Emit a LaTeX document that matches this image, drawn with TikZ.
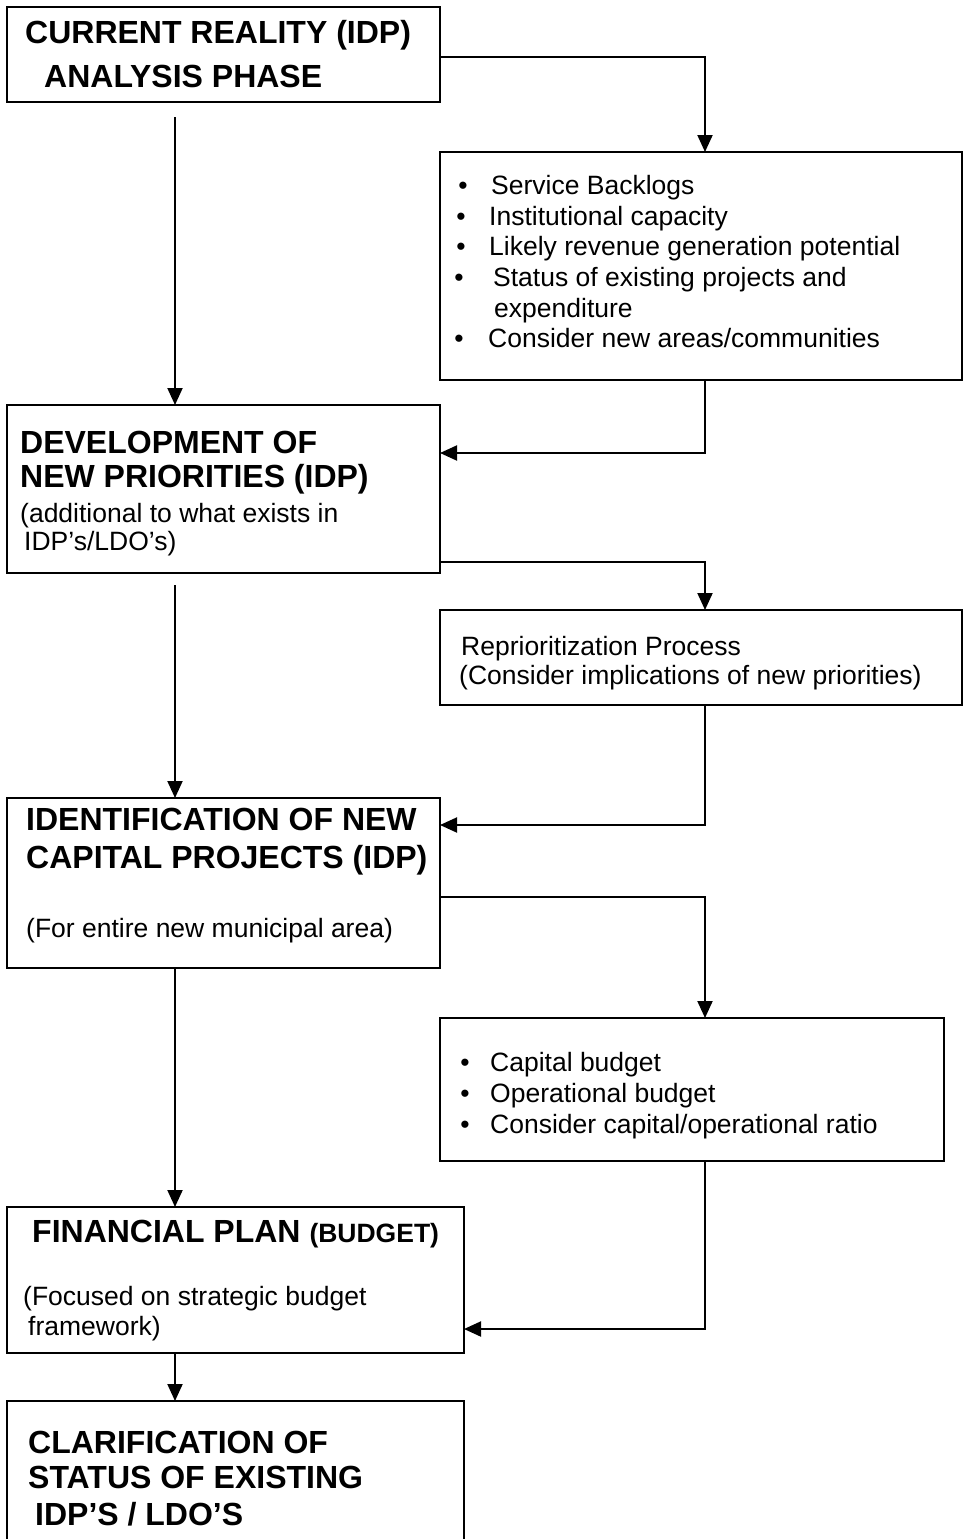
\documentclass[tikz,border=0pt]{standalone}
\usepackage{fontspec}
\setmainfont{Liberation Sans}
\usetikzlibrary{arrows.meta,calc}
\begin{document}
\begin{tikzpicture}[x=1pt,y=-1pt,
  box/.style={draw, line width=2pt, inner sep=0pt, outer sep=0pt, anchor=north west},
  openbox/.style={inner sep=0pt, outer sep=0pt, anchor=north west},
  edge/.style={line width=2pt},
  arr/.style={line width=2pt, -{Triangle[length=17pt,width=15pt]}},
  ttl/.style={anchor=base west, inner sep=0pt, font=\fontsize{32}{36}\selectfont\bfseries},
  txt/.style={anchor=base west, inner sep=0pt, font=\fontsize{26.5}{30}\selectfont},
  bul/.style={anchor=base, inner sep=0pt, font=\fontsize{26.5}{30}\selectfont}]
\useasboundingbox (0,0) rectangle (963,1539);
\fill[white] (0,0) rectangle (963,1539);

% boxes
\node[box, minimum width=433pt, minimum height=95pt]  (b1) at (7,7) {};
\node[box, minimum width=522pt, minimum height=228pt] (b2) at (440,152) {};
\node[box, minimum width=433pt, minimum height=168pt] (b3) at (7,405) {};
\node[box, minimum width=522pt, minimum height=95pt]  (b4) at (440,610) {};
\node[box, minimum width=433pt, minimum height=170pt] (b5) at (7,798) {};
\node[box, minimum width=504pt, minimum height=143pt] (b6) at (440,1018) {};
\node[box, minimum width=457pt, minimum height=146pt] (b7) at (7,1207) {};
\node[openbox, minimum width=457pt, minimum height=140pt] (b8) at (7,1401) {};
\draw[edge] (b8.south west) -- (b8.north west) -- (b8.north east) -- (b8.south east);

% texts
\node[ttl] (t1a) at (25,43) {CURRENT REALITY (IDP)};
\node[ttl] (t1b) at (44,87) {ANALYSIS PHASE};

\node[bul] (p1) at (463,194) {•};
\node[txt] (t2a) at (491,194) {Service Backlogs};
\node[bul] (p2) at (461,225) {•};
\node[txt] (t2b) at (489,225) {Institutional capacity};
\node[bul] (p3) at (461,255) {•};
\node[txt] (t2c) at (489,255) {Likely revenue generation potential};
\node[bul] (p4) at (459,286) {•};
\node[txt] (t2d) at (493,286) {Status of existing projects and};
\node[txt] (t2e) at (494,317) {expenditure};
\node[bul] (p5) at (459,347) {•};
\node[txt] (t2f) at (488,347) {Consider new areas/communities};

\node[ttl] (t3a) at (20,453) {DEVELOPMENT OF};
\node[ttl] (t3b) at (20,487) {NEW PRIORITIES (IDP)};
\node[txt] (t3c) at (20,522) {(additional to what exists in};
\node[txt] (t3d) at (24,550) {IDP’s/LDO’s)};

\node[txt] (t4a) at (461,655) {Reprioritization Process};
\node[txt] (t4b) at (459,684) {(Consider implications of new priorities)};

\node[ttl] (t5a) at (26,830) {IDENTIFICATION OF NEW};
\node[ttl] (t5b) at (26,868) {CAPITAL PROJECTS (IDP)};
\node[txt] (t5c) at (26,937) {(For entire new municipal area)};

\node[bul] (q1) at (465,1071) {•};
\node[txt] (t6a) at (490,1071) {Capital budget};
\node[bul] (q2) at (465,1102) {•};
\node[txt] (t6b) at (490,1102) {Operational budget};
\node[bul] (q3) at (465,1133) {•};
\node[txt] (t6c) at (490,1133) {Consider capital/operational ratio};

\node[ttl] (t7a) at (32,1242) {FINANCIAL PLAN {\fontsize{26.5}{30}\selectfont (BUDGET)}};
\node[txt] (t7b) at (23,1305) {(Focused on strategic budget};
\node[txt] (t7c) at (28,1335) {framework)};

\node[ttl] (t8a) at (28,1453) {CLARIFICATION OF};
\node[ttl] (t8b) at (28,1488) {STATUS OF EXISTING};
\node[ttl] (t8c) at (35,1525) {IDP’S / LDO’S};

% connector bend points
\coordinate (c1) at (705,57);
\coordinate (c2) at (705,453);
\coordinate (c3) at (705,562);
\coordinate (c4) at (705,825);
\coordinate (c5) at (705,897);
\coordinate (c6) at (705,1329);
\coordinate (s1) at (175,117);
\coordinate (s2) at (175,585);

% connectors
\draw[arr] (b1.east |- c1) -| (b2.north -| c1);
\draw[arr] (s1) -- (b3.north -| s1);
\draw[arr] (b2.south -| c2) |- (b3.east |- c2);
\draw[arr] (b3.east |- c3) -| (b4.north -| c3);
\draw[arr] (s2) -- (b5.north -| s2);
\draw[arr] (b4.south -| c4) |- (b5.east |- c4);
\draw[arr] (b5.east |- c5) -| (b6.north -| c5);
\draw[arr] (b5.south -| s1) -- (b7.north -| s1);
\draw[arr] (b6.south -| c6) |- (b7.east |- c6);
\draw[arr] (b7.south -| s1) -- (b8.north -| s1);
\end{tikzpicture}
\end{document}
